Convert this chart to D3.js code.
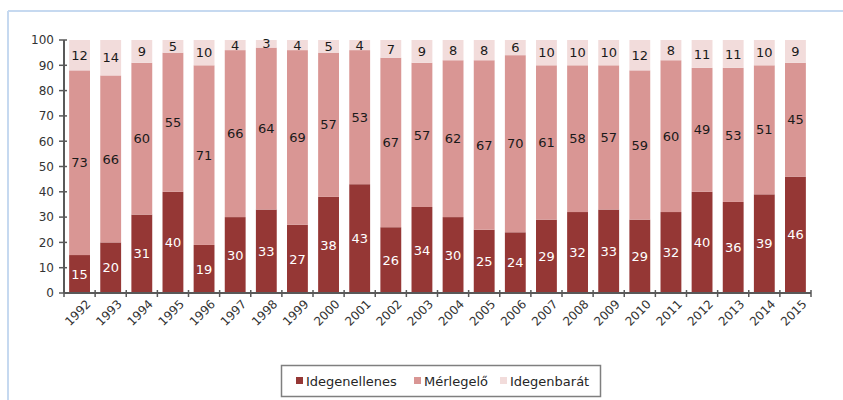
<!DOCTYPE html>
<html>
<head>
<meta charset="utf-8">
<script src="https://cdn.jsdelivr.net/npm/d3@7"></script>
<style>
  body { margin: 0; background: #fff; }
  svg { display: block; font-family: "DejaVu Sans", Verdana, sans-serif; }
</style>
</head>
<body>
<svg class="chart"></svg>
<script>
var width = 843, height = 400;

// data (percent)
var years = ["1992","1993","1994","1995","1996","1997","1998","1999","2000","2001","2002","2003",
             "2004","2005","2006","2007","2008","2009","2010","2011","2012","2013","2014","2015"];
var idegenellenes = [15,20,31,40,19,30,33,27,38,43,26,34,30,25,24,29,32,33,29,32,40,36,39,46];
var merlegelo     = [73,66,60,55,71,66,64,69,57,53,67,57,62,67,70,61,58,57,59,60,49,53,51,45];
var idegenbarat   = [12,14,9,5,10,4,3,4,5,4,7,9,8,8,6,10,10,10,12,8,11,11,10,9];
var seriesNames = ["Idegenellenes", "Mérlegelő", "Idegenbarát"];
var yTicks = [0,10,20,30,40,50,60,70,80,90,100];

var colors = ["#953735", "#d99694", "#f2dcdb"];
var labelColors = ["#ffffff", "#1a1a1a", "#1a1a1a"];

var chart = d3.select(".chart")
    .attr("width", width)
    .attr("height", height);

// light blue frame (only top and left edges visible)
chart.append("line").attr("x1", 8).attr("x2", width).attr("y1", 11).attr("y2", 11)
    .attr("stroke", "#c6d9f0").attr("stroke-width", 2);
chart.append("line").attr("x1", 8).attr("x2", 8).attr("y1", 11).attr("y2", height)
    .attr("stroke", "#c6d9f0").attr("stroke-width", 2);

var x = d3.scaleBand()
    .domain(years)
    .range([64, 811])
    .paddingInner(0.33)
    .paddingOuter(0.165);

var y = d3.scaleLinear()
    .domain([0, 100])
    .range([293, 40]);

var table = years.map(function(yr, i) {
    return { year: yr, Idegenellenes: idegenellenes[i], "Mérlegelő": merlegelo[i], "Idegenbarát": idegenbarat[i] };
});

var stacked = d3.stack().keys(seriesNames)(table);

var g = chart.append("g");

stacked.forEach(function(layer, k) {
    var lg = g.append("g");
    lg.selectAll("rect")
        .data(layer)
        .enter()
        .append("rect")
        .attr("x", function(d) { return x(d.data.year); })
        .attr("width", x.bandwidth())
        .attr("y", function(d) { return y(d[1]); })
        .attr("height", function(d) { return y(d[0]) - y(d[1]); })
        .attr("fill", colors[k]);

    lg.selectAll("text")
        .data(layer)
        .enter()
        .append("text")
        .attr("x", function(d) { return x(d.data.year) + x.bandwidth() / 2; })
        .attr("y", function(d) { return (y(d[0]) + y(d[1])) / 2; })
        .attr("dy", "0.36em")
        .attr("text-anchor", "middle")
        .attr("font-size", "13px")
        .attr("fill", labelColors[k])
        .text(function(d) { return d[1] - d[0]; });
});

// y axis
var axisColor = "#595959";
var yAxis = chart.append("g");
yAxis.append("line").attr("x1", 64).attr("x2", 64).attr("y1", y(100)).attr("y2", y(0))
    .attr("stroke", axisColor).attr("stroke-width", 2);
yAxis.selectAll("line.tick")
    .data(yTicks)
    .enter()
    .append("line")
    .attr("class", "tick")
    .attr("x1", 59).attr("x2", 67)
    .attr("y1", function(d) { return y(d); })
    .attr("y2", function(d) { return y(d); })
    .attr("stroke", axisColor).attr("stroke-width", 1.5);
yAxis.selectAll("text")
    .data(yTicks)
    .enter()
    .append("text")
    .attr("x", 54)
    .attr("y", function(d) { return y(d); })
    .attr("dy", "0.36em")
    .attr("text-anchor", "end")
    .attr("font-size", "12px")
    .attr("fill", "#333")
    .text(function(d) { return d; });

// x axis
var xAxis = chart.append("g");
xAxis.append("line").attr("x1", 64).attr("x2", 811).attr("y1", y(0)).attr("y2", y(0))
    .attr("stroke", axisColor).attr("stroke-width", 2);
var bounds = years.map(function(yr) { return x(yr) - x.step() * x.paddingOuter(); });
bounds.push(811);
xAxis.selectAll("line.tick")
    .data(bounds)
    .enter()
    .append("line")
    .attr("class", "tick")
    .attr("x1", function(d) { return d; })
    .attr("x2", function(d) { return d; })
    .attr("y1", y(0) - 3).attr("y2", y(0) + 4)
    .attr("stroke", axisColor).attr("stroke-width", 1.5);
xAxis.selectAll("text")
    .data(years)
    .enter()
    .append("text")
    .attr("transform", function(d) {
        return "translate(" + (x(d) + x.bandwidth() / 2 + 6) + "," + 299 + ") rotate(-45)";
    })
    .attr("text-anchor", "end")
    .attr("dy", "0.7em")
    .attr("font-size", "12px")
    .attr("fill", "#333")
    .text(function(d) { return d; });

// legend
var legend = chart.append("g");
legend.append("rect")
    .attr("x", 281.5).attr("y", 365.5).attr("width", 319).attr("height", 31)
    .attr("fill", "#fff").attr("stroke", "#7f7f7f").attr("stroke-width", 1.5);
var legendX = [296, 414, 500];
seriesNames.forEach(function(name, k) {
    legend.append("rect")
        .attr("x", legendX[k]).attr("y", 377).attr("width", 7).attr("height", 7)
        .attr("fill", colors[k]);
    legend.append("text")
        .attr("x", legendX[k] + 10).attr("y", 381)
        .attr("dy", "0.36em")
        .attr("font-size", "13px")
        .attr("fill", "#262626")
        .text(name);
});
</script>
</body>
</html>
